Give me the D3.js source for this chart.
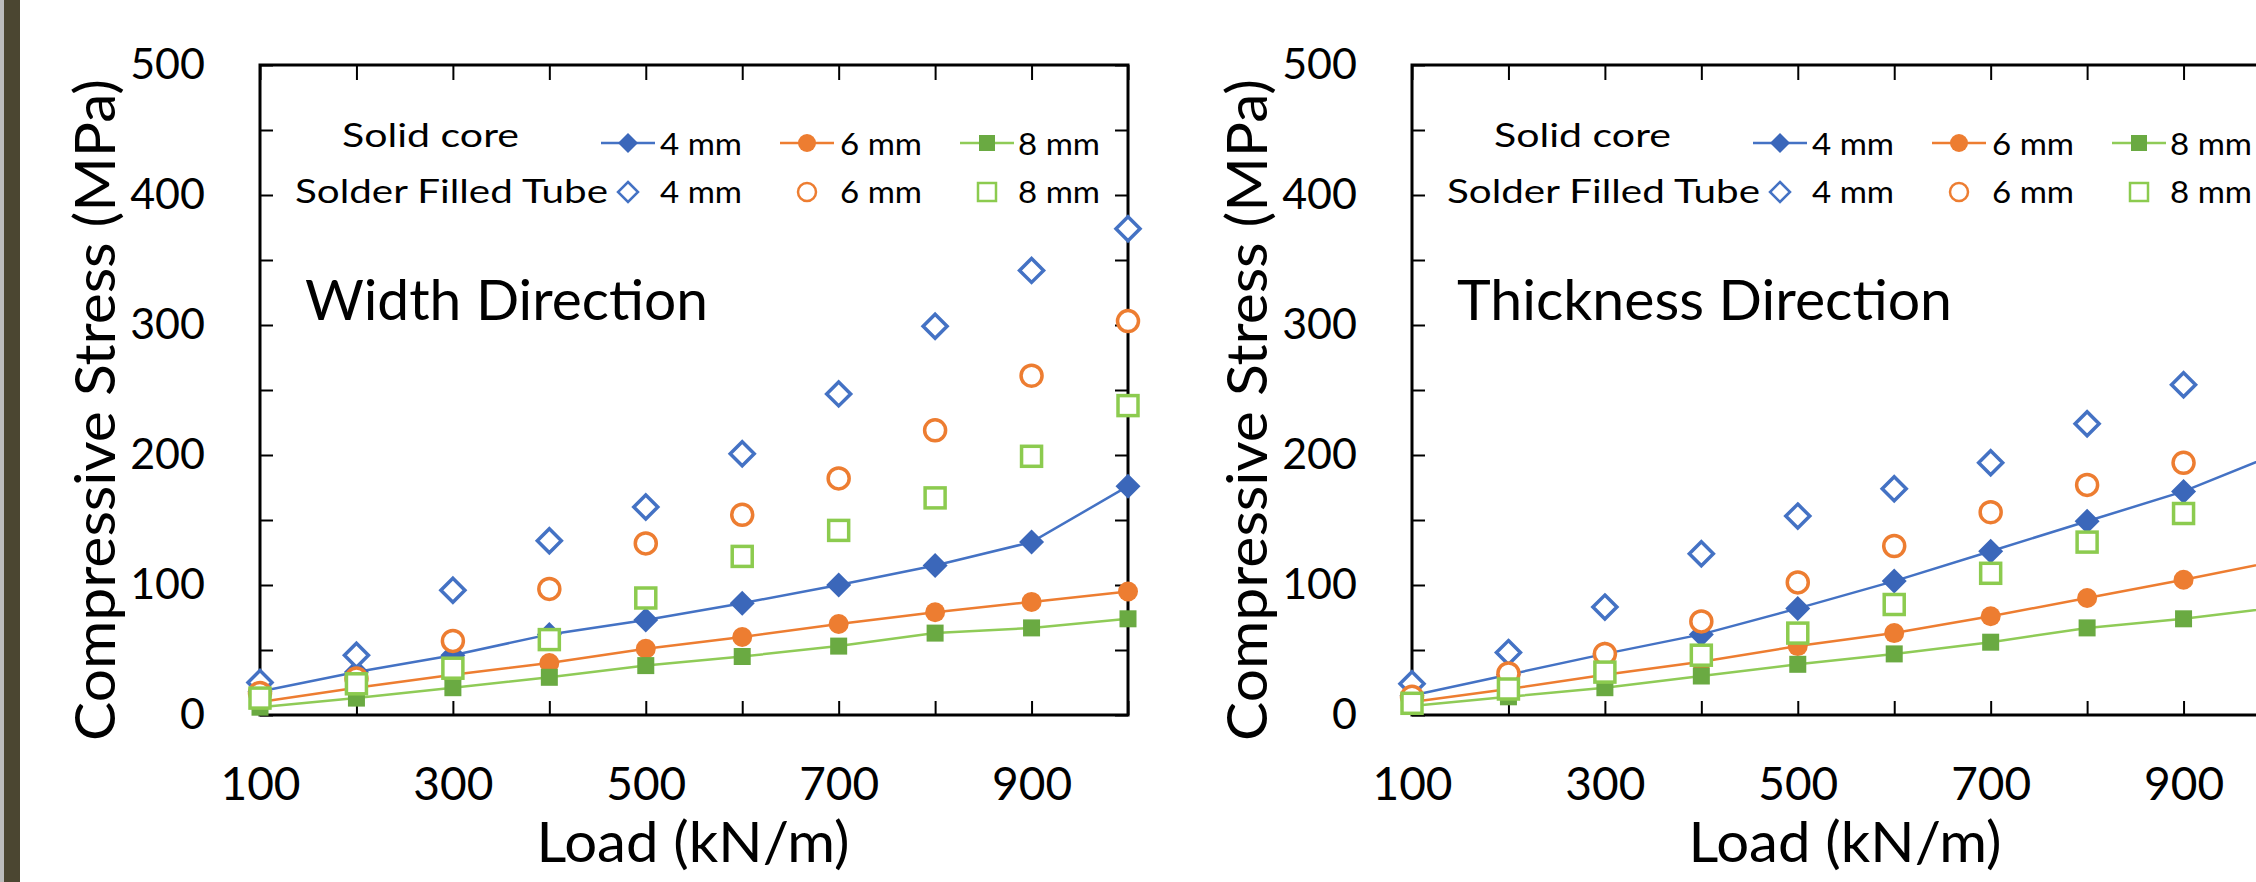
<!DOCTYPE html>
<html>
<head>
<meta charset="utf-8">
<script src="https://cdn.jsdelivr.net/npm/d3@7"></script>
<style>
body { margin: 0; background: #fff; }
svg text { font-family: Lato, "Open Sans", sans-serif; fill: #000; }
</style>
</head>
<body>
<script>
// loads on the x axis (kN/m)
var loads = [100, 200, 300, 400, 500, 600, 700, 800, 900, 1000];
var xTicks = [100, 200, 300, 400, 500, 600, 700, 800, 900, 1000];
var xLabels = [100, 300, 500, 700, 900];
var yTicks = [0, 50, 100, 150, 200, 250, 300, 350, 400, 450, 500];
var yLabels = [0, 100, 200, 300, 400, 500];
var sizes = ["4 mm", "6 mm", "8 mm"];

// width direction (MPa)
var widthSolid4 = [18, 33, 46, 62, 73, 86, 100, 115, 133, 176];
var widthSolid6 = [10, 21, 31, 40, 51, 60, 70, 79, 87, 95];
var widthSolid8 = [6, 13, 21, 29, 38, 45, 53, 63, 67, 74];
var widthTube4  = [25, 46, 96, 134, 160, 201, 247, 299, 342, 374];
var widthTube6  = [17, 28, 57, 97, 132, 154, 182, 219, 261, 303];
var widthTube8  = [13, 24, 36, 58, 90, 122, 142, 167, 199, 238];

// thickness direction (MPa)
var thickSolid4 = [15, 31, 47, 62, 82, 103, 126, 149, 172, 202];
var thickSolid6 = [10, 20, 31, 41, 53, 63, 76, 90, 104, 119];
var thickSolid8 = [7, 14, 21, 30, 39, 47, 56, 67, 74, 83];
var thickTube4  = [24, 48, 83, 124, 153, 174, 194, 224, 254, 285];
var thickTube6  = [14, 32, 47, 72, 102, 130, 156, 177, 194, 225];
var thickTube8  = [9, 20, 33, 46, 63, 85, 109, 133, 155, 180];

var lineCol   = ["#4472C4", "#ED7D31", "#8FCB57"];
var markCol   = ["#3B67BA", "#ED7D31", "#6AAA42"];
var hollowCol = ["#4472C4", "#ED7D31", "#8CCB4F"];
var shapes    = ["diamond", "circle", "square"];

var svg = d3.select("body").append("svg")
            .attr("width", 2256)
            .attr("height", 882);

svg.append("rect").attr("x", 0).attr("y", 0).attr("width", 2256).attr("height", 882).style("fill", "#fff");
svg.append("rect").attr("x", 0).attr("y", 0).attr("width", 4).attr("height", 882).style("fill", "#bdbdbd");
svg.append("rect").attr("x", 4).attr("y", 0).attr("width", 16).attr("height", 882).style("fill", "#4b4631");

function marker(g, shape, cx, cy, s, hollow, col, sw) {
    var el;
    if (shape === "circle") {
        el = g.append("circle").attr("cx", cx).attr("cy", cy).attr("r", s);
    } else if (shape === "square") {
        el = g.append("rect").attr("x", cx - s).attr("y", cy - s).attr("width", 2 * s).attr("height", 2 * s);
    } else {
        el = g.append("path").attr("d", "M" + cx + "," + (cy - s) + "L" + (cx + s) + "," + cy +
                                        "L" + cx + "," + (cy + s) + "L" + (cx - s) + "," + cy + "Z");
    }
    if (hollow) el.style("fill", "#fff").style("stroke", col).style("stroke-width", sw);
    else        el.style("fill", col).style("stroke", "none");
}

var solidSize  = [12.5, 10, 8.5];
var hollowSize = [12, 10.5, 10];

function drawPanel(ox, title, titleLen, solid, tube) {
    var w = 868, top = 65, bottom = 715;
    var x = d3.scaleLinear().domain([100, 1000]).range([ox, ox + w]);
    var y = d3.scaleLinear().domain([0, 500]).range([bottom, top]);
    var g = svg.append("g");

    // axes, ticks inward
    g.append("g").attr("transform", "translate(0," + bottom + ")")
     .call(d3.axisBottom(x).tickValues(xTicks).tickSize(-14).tickPadding(52)
             .tickFormat(function(d) { return xLabels.indexOf(d) >= 0 ? d : ""; }))
     .call(function(a) { a.selectAll("text").style("font-size", "46px"); });
    g.append("g").attr("transform", "translate(0," + top + ")")
     .call(d3.axisTop(x).tickValues(xTicks).tickSize(-15).tickFormat(""));
    g.append("g").attr("transform", "translate(" + ox + ",0)")
     .call(d3.axisLeft(y).tickValues(yTicks).tickSize(-13).tickPadding(55)
             .tickFormat(function(d) { return yLabels.indexOf(d) >= 0 ? d : ""; }))
     .call(function(a) { a.selectAll("text").style("font-size", "43px"); });
    g.append("g").attr("transform", "translate(" + (ox + w) + ",0)")
     .call(d3.axisRight(y).tickValues(yTicks).tickSize(-13).tickFormat(""));
    g.selectAll(".domain").remove();
    g.selectAll(".tick line").style("stroke", "#000").style("stroke-width", 2);
    g.selectAll(".tick text").style("font-family", "Lato, 'Open Sans', sans-serif").style("fill", "#000");

    g.append("rect").attr("x", ox).attr("y", top).attr("width", w).attr("height", bottom - top)
     .style("fill", "none").style("stroke", "#000").style("stroke-width", 3);

    // axis titles
    g.append("text").attr("transform", "translate(" + (ox - 145) + ",410) rotate(-90)")
     .attr("text-anchor", "middle").style("font-size", "56px")
     .attr("textLength", 662).attr("lengthAdjust", "spacingAndGlyphs")
     .text("Compressive Stress (MPa)");
    g.append("text").attr("x", ox + 433).attr("y", 862).attr("text-anchor", "middle")
     .style("font-size", "56px").attr("textLength", 313).attr("lengthAdjust", "spacingAndGlyphs")
     .text("Load (kN/m)");
    g.append("text").attr("x", ox + 45).attr("y", 320).style("font-size", "56px")
     .attr("textLength", titleLen).attr("lengthAdjust", "spacingAndGlyphs")
     .text(title);

    // solid core: lines + filled markers
    solid.forEach(function(vals, k) {
        var line = d3.line().x(function(d, i) { return x(loads[i]); }).y(function(d) { return y(d); });
        g.append("path").datum(vals).attr("d", line)
         .style("fill", "none").style("stroke", lineCol[k]).style("stroke-width", 2.5);
    });
    solid.forEach(function(vals, k) {
        vals.forEach(function(v, i) { marker(g, shapes[k], x(loads[i]), y(v), solidSize[k], false, markCol[k]); });
    });
    // solder filled tube: hollow markers
    tube.forEach(function(vals, k) {
        vals.forEach(function(v, i) { marker(g, shapes[k], x(loads[i]), y(v), hollowSize[k], true, hollowCol[k], 3.5); });
    });

    // legend
    g.append("text").attr("x", ox + 82).attr("y", 147).style("font-size", "32px")
     .attr("textLength", 177).attr("lengthAdjust", "spacingAndGlyphs").text("Solid core");
    g.append("text").attr("x", ox + 348).attr("y", 203).attr("text-anchor", "end").style("font-size", "32px")
     .attr("textLength", 313).attr("lengthAdjust", "spacingAndGlyphs").text("Solder Filled Tube");
    var mx = [368, 547, 727], tx = [400, 580, 758];
    sizes.forEach(function(s, k) {
        g.append("line").attr("x1", ox + mx[k] - 27).attr("x2", ox + mx[k] + 27)
         .attr("y1", 143).attr("y2", 143).style("stroke", lineCol[k]).style("stroke-width", 2.5);
        marker(g, shapes[k], ox + mx[k], 143, [10, 9, 8][k], false, markCol[k]);
        marker(g, shapes[k], ox + mx[k], 192, [10, 9, 9][k], true, hollowCol[k], 2.5);
        g.append("text").attr("x", ox + tx[k]).attr("y", 155).style("font-size", "30px")
         .attr("textLength", 82).attr("lengthAdjust", "spacingAndGlyphs").text(s);
        g.append("text").attr("x", ox + tx[k]).attr("y", 203).style("font-size", "30px")
         .attr("textLength", 82).attr("lengthAdjust", "spacingAndGlyphs").text(s);
    });
}

drawPanel(260, "Width Direction", 403,
          [widthSolid4, widthSolid6, widthSolid8], [widthTube4, widthTube6, widthTube8]);
drawPanel(1412, "Thickness Direction", 495,
          [thickSolid4, thickSolid6, thickSolid8], [thickTube4, thickTube6, thickTube8]);
</script>
</body>
</html>
